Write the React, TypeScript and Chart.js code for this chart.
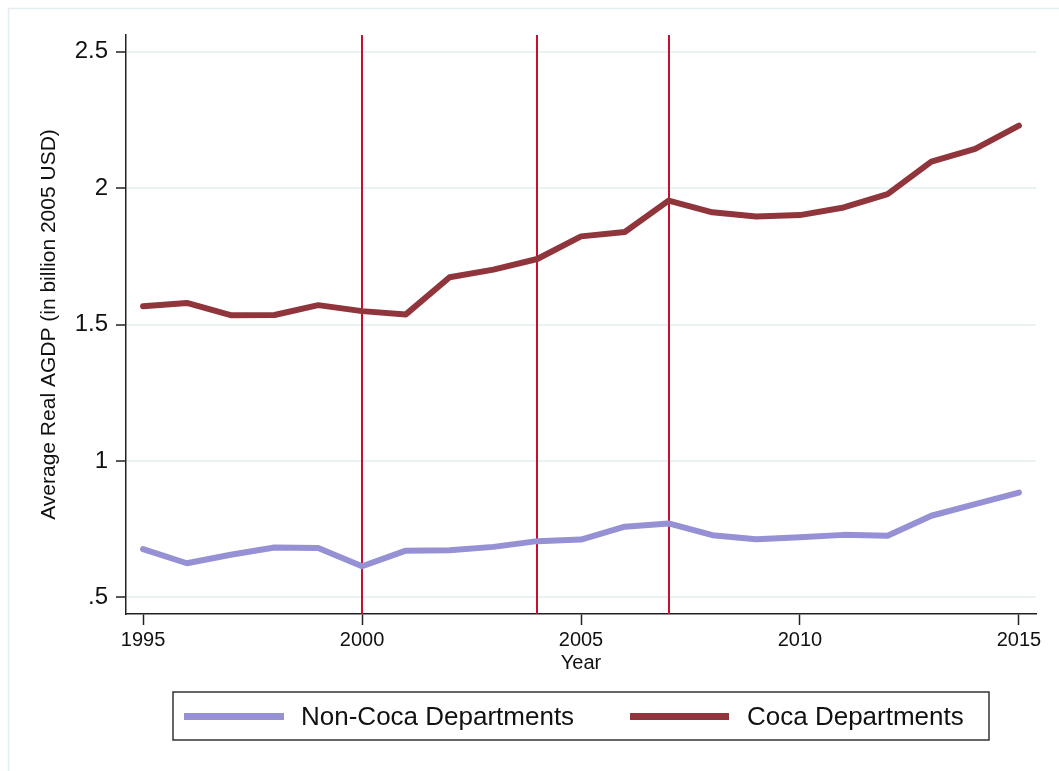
import React, { useEffect, useRef } from "react";
import { Chart, registerables } from "chart.js";

Chart.register(...registerables);

// Survey years on the horizontal axis
const years = [
  1995, 1996, 1997, 1998, 1999, 2000, 2001, 2002, 2003, 2004, 2005,
  2006, 2007, 2008, 2009, 2010, 2011, 2012, 2013, 2014, 2015,
];

// Average real AGDP, billion 2005 USD
const nonCocaValues = [
  0.677, 0.625, 0.656, 0.683, 0.681, 0.614, 0.671, 0.673, 0.685, 0.706, 0.712,
  0.759, 0.771, 0.728, 0.713, 0.72, 0.729, 0.726, 0.799, 0.842, 0.884,
];
const cocaValues = [
  1.567, 1.579, 1.534, 1.535, 1.571, 1.549, 1.537, 1.673, 1.701, 1.74, 1.823,
  1.839, 1.954, 1.911, 1.896, 1.901, 1.929, 1.978, 2.097, 2.144, 2.229,
];

// Years marked with vertical reference lines
const eventYears = [2000, 2004, 2007];

// Axis ticks
const xTicks = [1995, 2000, 2005, 2010, 2015];
const yTicks = [0.5, 1, 1.5, 2, 2.5];
const yTickLabels = [".5", "1", "1.5", "2", "2.5"];

const seriesNames = ["Non-Coca Departments", "Coca Departments"];
const seriesColors = ["#9690d4", "#90353b"];

const FONT = "'Liberation Sans', Arial, Helvetica, sans-serif";
const W = 1059;
const H = 771;

const decorPlugin = {
  id: "decor",
  beforeDraw(chart: any) {
    const { ctx } = chart;
    ctx.save();
    ctx.fillStyle = "#ffffff";
    ctx.fillRect(0, 0, W, H);
    // light frame along top and left edges
    ctx.strokeStyle = "#e4eef0";
    ctx.lineWidth = 1.5;
    ctx.beginPath();
    ctx.moveTo(8.5, H);
    ctx.lineTo(8.5, 8.5);
    ctx.lineTo(W, 8.5);
    ctx.stroke();
    ctx.restore();
  },
  beforeDatasetsDraw(chart: any) {
    const { ctx, chartArea, scales } = chart;
    ctx.save();
    ctx.strokeStyle = "#c8102e";
    ctx.lineWidth = 2;
    eventYears.forEach((yr) => {
      const x = Math.round(scales.x.getPixelForValue(yr)) + 0.0;
      ctx.beginPath();
      ctx.moveTo(x, chartArea.top);
      ctx.lineTo(x, chartArea.bottom);
      ctx.stroke();
    });
    ctx.restore();
  },
  afterDraw(chart: any) {
    const { ctx, chartArea } = chart;
    ctx.save();
    ctx.fillStyle = "#111111";

    // x-axis title
    ctx.font = `20px ${FONT}`;
    ctx.textAlign = "center";
    ctx.textBaseline = "middle";
    ctx.fillText("Year", (chartArea.left + chartArea.right) / 2, 663);

    // y-axis title
    ctx.save();
    ctx.translate(49, (chartArea.top + chartArea.bottom) / 2);
    ctx.rotate(-Math.PI / 2);
    ctx.font = `21px ${FONT}`;
    ctx.fillText("Average Real AGDP (in billion 2005 USD)", 0, 0);
    ctx.restore();

    // legend box
    ctx.strokeStyle = "#333333";
    ctx.lineWidth = 1.5;
    ctx.strokeRect(173, 692, 816, 48);
    const ly = 716.5;
    const items = [
      { x0: 184, x1: 284, tx: 301 },
      { x0: 630, x1: 729, tx: 747 },
    ];
    items.forEach((it, i) => {
      ctx.strokeStyle = seriesColors[i];
      ctx.lineWidth = 7;
      ctx.lineCap = "butt";
      ctx.beginPath();
      ctx.moveTo(it.x0, ly);
      ctx.lineTo(it.x1, ly);
      ctx.stroke();
      ctx.fillStyle = "#111111";
      ctx.font = `26px ${FONT}`;
      ctx.textAlign = "left";
      ctx.textBaseline = "middle";
      ctx.fillText(seriesNames[i], it.tx, ly + 1);
    });
    ctx.restore();
  },
};

export default function App() {
  const canvasRef = useRef<HTMLCanvasElement | null>(null);

  useEffect(() => {
    const canvas = canvasRef.current;
    if (!canvas) return;
    const chart = new Chart(canvas, {
      type: "line",
      data: {
        datasets: [
          {
            label: seriesNames[0],
            data: years.map((yr, i) => ({ x: yr, y: nonCocaValues[i] })),
            borderColor: seriesColors[0],
            borderWidth: 6,
            pointRadius: 0,
            tension: 0,
            borderJoinStyle: "round",
            borderCapStyle: "round",
          },
          {
            label: seriesNames[1],
            data: years.map((yr, i) => ({ x: yr, y: cocaValues[i] })),
            borderColor: seriesColors[1],
            borderWidth: 6,
            pointRadius: 0,
            tension: 0,
            borderJoinStyle: "round",
            borderCapStyle: "round",
          },
        ],
      },
      options: {
        animation: false,
        responsive: false,
        devicePixelRatio: 1,
        layout: { padding: { top: 35, right: 23, left: 0, bottom: 0 } },
        plugins: {
          legend: { display: false },
          tooltip: { enabled: false },
        },
        scales: {
          x: {
            type: "linear",
            min: 1994.61,
            max: 2015.39,
            afterBuildTicks(scale: any) {
              scale.ticks = xTicks.map((v) => ({ value: v }));
            },
            afterFit(scale: any) {
              scale.height = H - 614;
            },
            ticks: {
              color: "#111111",
              font: { family: FONT, size: 20 },
              padding: 3,
              maxRotation: 0,
              callback: (v: any) => String(v),
            },
            grid: {
              drawOnChartArea: false,
              drawTicks: true,
              tickLength: 11,
              tickColor: "#222222",
              tickWidth: 1.5,
            },
            border: { display: true, color: "#222222", width: 1.5 },
          },
          y: {
            type: "linear",
            min: 0.439,
            max: 2.561,
            afterBuildTicks(scale: any) {
              scale.ticks = yTicks.map((v) => ({ value: v }));
            },
            afterFit(scale: any) {
              scale.width = 126;
            },
            ticks: {
              color: "#111111",
              font: { family: FONT, size: 24 },
              padding: 8,
              callback: (v: any) => {
                const idx = yTicks.indexOf(Number(v));
                return idx >= 0 ? yTickLabels[idx] : "";
              },
            },
            grid: {
              color: "#eaf2f3",
              lineWidth: 2,
              drawTicks: true,
              tickLength: 10,
              tickColor: "#222222",
              tickWidth: 1.5,
            },
            border: { display: true, color: "#222222", width: 1.5 },
          },
        },
      },
      plugins: [decorPlugin],
    });
    return () => chart.destroy();
  }, []);

  return (
    <div style={{ position: "absolute", left: 0, top: 0, width: W, height: H }}>
      <canvas ref={canvasRef} width={W} height={H} style={{ width: W, height: H, display: "block" }} />
    </div>
  );
}
